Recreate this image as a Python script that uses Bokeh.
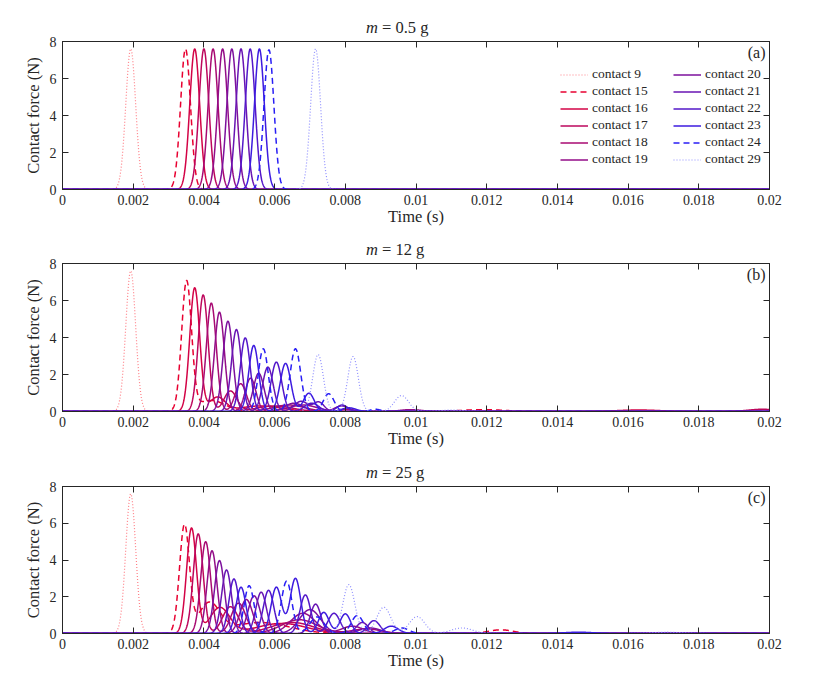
import numpy as np
from bokeh.plotting import figure
from bokeh.models import (Range1d, LinearAxis, FixedTicker, Label, Legend, Div,
                          LegendItem, CustomJSTickFormatter, ColumnDataSource)
from bokeh.layouts import column
from bokeh.embed import file_html
from bokeh.resources import INLINE

# ---------------- data ----------------
contacts = [9, 15, 16, 17, 18, 19, 20, 21, 22, 23, 24, 29]
dash_styles = ["dotted", "dashed", "solid", "solid", "solid", "solid",
               "solid", "solid", "solid", "solid", "dashed", "dotted"]
masses = ["0.5", "12", "25"]
panel_tags = ["(a)", "(b)", "(c)"]
x_ticks = [0, 0.002, 0.004, 0.006, 0.008, 0.01, 0.012, 0.014, 0.016, 0.018, 0.02]
x_tick_labels = ["0", "0.002", "0.004", "0.006", "0.008", "0.01", "0.012",
                 "0.014", "0.016", "0.018", "0.02"]
y_ticks = [0, 2, 4, 6, 8]

# pulses: (peak time [ms], peak force [N], width [ms])
pulses_a = {
    9:  [(1.93, 7.6, 0.14)],
    15: [(3.48, 7.6, 0.14)],
    16: [(3.74, 7.6, 0.14)],
    17: [(4.00, 7.6, 0.14)],
    18: [(4.26, 7.6, 0.14)],
    19: [(4.53, 7.6, 0.14)],
    20: [(4.79, 7.6, 0.14)],
    21: [(5.05, 7.6, 0.14)],
    22: [(5.31, 7.6, 0.14)],
    23: [(5.57, 7.6, 0.14)],
    24: [(5.84, 7.55, 0.14)],
    29: [(7.16, 7.6, 0.14)],
}
pulses_b = {
    9:  [(1.93, 7.6, 0.14)],
    15: [(3.51, 6.95, 0.14), (4.20, 0.60, 0.40), (11.9, 0.10, 0.60)],
    16: [(3.74, 6.68, 0.14), (4.38, 0.75, 0.22), (5.60, 0.30, 0.60), (16.3, 0.08, 0.60)],
    17: [(3.98, 6.30, 0.14), (4.75, 1.10, 0.18), (6.00, 0.30, 0.50), (19.8, 0.12, 0.40)],
    18: [(4.21, 5.86, 0.14), (5.04, 1.50, 0.16), (6.40, 0.35, 0.45), (8.05, 0.12, 0.20)],
    19: [(4.44, 5.37, 0.14), (5.32, 1.80, 0.15), (6.80, 0.35, 0.40), (9.85, 0.10, 0.30)],
    20: [(4.68, 4.88, 0.14), (5.55, 2.07, 0.15), (6.55, 0.45, 0.25), (7.90, 0.30, 0.20)],
    21: [(4.92, 4.43, 0.14), (5.81, 2.40, 0.15), (6.75, 0.55, 0.20), (7.25, 0.50, 0.15)],
    22: [(5.17, 3.98, 0.14), (6.05, 2.67, 0.15), (7.05, 0.45, 0.20), (7.91, 0.35, 0.15)],
    23: [(5.41, 3.57, 0.14), (6.31, 2.60, 0.15), (6.97, 0.99, 0.15), (8.10, 0.20, 0.20)],
    24: [(5.68, 3.39, 0.14), (6.59, 3.39, 0.15), (7.53, 0.96, 0.15), (8.85, 0.12, 0.15)],
    29: [(7.23, 3.08, 0.15), (8.22, 2.97, 0.15), (9.59, 0.86, 0.20), (11.0, 0.08, 0.30)],
}
pulses_c = {
    9:  [(1.93, 7.6, 0.14)],
    15: [(3.45, 5.83, 0.14), (4.15, 1.60, 0.30), (5.60, 0.60, 0.80), (12.4, 0.20, 0.35)],
    16: [(3.65, 5.72, 0.14), (4.45, 1.40, 0.28), (6.20, 0.55, 0.70)],
    17: [(3.84, 5.42, 0.14), (4.75, 1.45, 0.22), (6.50, 0.60, 0.60)],
    18: [(4.05, 5.00, 0.14), (4.98, 1.65, 0.20), (6.70, 0.75, 0.50), (8.60, 0.25, 0.40)],
    19: [(4.23, 4.50, 0.14), (5.20, 1.85, 0.18), (6.80, 1.10, 0.35), (8.20, 0.40, 0.30)],
    20: [(4.44, 3.97, 0.14), (5.42, 2.05, 0.17), (7.00, 1.30, 0.30), (8.70, 0.30, 0.30)],
    21: [(4.64, 3.46, 0.14), (5.62, 2.25, 0.15), (7.16, 1.60, 0.15), (8.48, 0.60, 0.17)],
    22: [(4.85, 2.97, 0.14), (5.83, 2.35, 0.15), (6.87, 2.10, 0.15), (7.68, 1.10, 0.17),
         (8.81, 0.70, 0.17)],
    23: [(5.05, 2.52, 0.14), (6.05, 2.52, 0.15), (6.59, 3.00, 0.15), (7.39, 1.15, 0.15),
         (8.00, 1.07, 0.15), (9.30, 0.40, 0.20), (14.6, 0.07, 0.40)],
    24: [(5.28, 2.60, 0.14), (6.34, 2.85, 0.15), (7.20, 0.90, 0.20), (8.34, 0.98, 0.17),
         (9.60, 0.30, 0.20)],
    29: [(8.10, 2.66, 0.17), (9.09, 1.43, 0.20), (10.03, 0.92, 0.22), (11.3, 0.30, 0.30),
         (17.1, 0.07, 0.40)],
}
panels = [pulses_a, pulses_b, pulses_c]

# ---------------- styling ----------------
FONT = "Liberation Serif"
AX = "#262626"
c0 = np.array([232, 0, 48])
c1 = np.array([40, 30, 245])
colors = ["#ff7f86"]
for i in range(10):
    c = c0 + (c1 - c0) * i / 9.0
    colors.append("#%02x%02x%02x" % tuple(int(round(v)) for v in c))
colors.append("#8f8fff")
dash_map = {"dotted": "1 2", "dashed": "6 4", "solid": "solid"}

t = np.linspace(0.0, 0.02, 2401)
tms = t * 1e3


def curve(pulses):
    f = np.zeros_like(t)
    for tc, amp, sig in pulses:
        f += amp * np.exp(-0.5 * ((tms - tc) / sig) ** 2)
    return f


fmt = CustomJSTickFormatter(args=dict(tvals=x_ticks, tlabels=x_tick_labels), code="""
let best = 0;
for (let i = 0; i < tvals.length; i++) {
  if (Math.abs(tvals[i] - tick) < Math.abs(tvals[best] - tick)) best = i;
}
return tlabels[best];
""")

# layout geometry (pixels)
div_heights = [36, 28, 29]
title_tops = [19.5, 11.5, 12.5]
frame_heights = [148, 148, 147]
bottoms = [41, 41, 42]

items_out = []
for k, pulses in enumerate(panels):
    title_html = (
        '<div style="padding-left:366px;padding-top:%.1fpx;font-family:\'Liberation Serif\';'
        'font-size:16.5px;line-height:16px;color:#262626;white-space:nowrap;">'
        '<i>m</i> = %s g</div>' % (title_tops[k], masses[k]))
    d = Div(text=title_html, width=798, height=div_heights[k], margin=0)
    items_out.append(d)

    p = figure(frame_width=707, frame_height=frame_heights[k],
               x_range=Range1d(0, 0.02), y_range=Range1d(0, 8),
               output_backend="svg", toolbar_location=None,
               min_border_left=62, min_border_right=29,
               min_border_top=5, min_border_bottom=bottoms[k])
    p.grid.visible = False
    p.outline_line_color = AX
    p.outline_line_width = 1
    p.background_fill_color = "white"
    p.border_fill_color = "white"

    renderers = []
    for j, c in enumerate(contacts):
        src = ColumnDataSource(dict(x=t, y=curve(pulses[c])))
        lw = 1.2 if dash_styles[j] == "dotted" else 1.5
        r = p.line("x", "y", source=src, line_color=colors[j], line_width=lw,
                   line_dash=dash_map[dash_styles[j]])
        renderers.append(r)

    # axes
    for ax in [p.xaxis[0], p.yaxis[0]]:
        ax.axis_line_color = AX
        ax.major_tick_line_color = AX
        ax.major_tick_in = 6
        ax.major_tick_out = 0
        ax.minor_tick_line_color = None
        ax.major_label_text_font = FONT
        ax.major_label_text_font_size = "14px"
        ax.major_label_text_color = AX
        ax.axis_label_text_font = FONT
        ax.axis_label_text_font_size = "16.5px"
        ax.axis_label_text_font_style = "normal"
        ax.axis_label_text_color = AX
    p.xaxis.ticker = FixedTicker(ticks=x_ticks)
    p.xaxis.formatter = fmt
    p.xaxis.axis_label = "Time (s)"
    p.xaxis.major_label_standoff = 5
    p.xaxis.axis_label_standoff = -1
    p.yaxis.ticker = FixedTicker(ticks=y_ticks)
    p.yaxis.axis_label = "Contact force (N)"
    p.yaxis.major_label_standoff = 6
    p.yaxis.axis_label_standoff = 4

    top = LinearAxis(ticker=FixedTicker(ticks=x_ticks), major_tick_in=6, major_tick_out=0,
                     minor_tick_line_color=None, axis_line_color=AX,
                     major_tick_line_color=AX, major_label_text_font_size="0px",
                     major_label_text_color=None, major_label_standoff=0)
    right = LinearAxis(ticker=FixedTicker(ticks=y_ticks), major_tick_in=6, major_tick_out=0,
                       minor_tick_line_color=None, axis_line_color=AX,
                       major_tick_line_color=AX, major_label_text_font_size="0px",
                       major_label_text_color=None, major_label_standoff=0)
    p.add_layout(top, "above")
    p.add_layout(right, "right")

    p.add_layout(Label(x=0.02, y=8, x_offset=-4, y_offset=-2, text=panel_tags[k],
                       text_align="right", text_baseline="top", text_font=FONT,
                       text_font_size="16px", text_color=AX))

    if k == 0:
        for half, loc in [(0, (498, 22)), (1, (611, 22))]:
            items = [LegendItem(label="contact %d" % contacts[j], renderers=[renderers[j]])
                     for j in range(half * 6, half * 6 + 6)]
            leg = Legend(items=items, location=loc, padding=0, margin=0, spacing=1,
                         glyph_width=28, glyph_height=15, label_height=15,
                         label_standoff=4, border_line_color=None,
                         background_fill_alpha=0, label_text_font=FONT,
                         label_text_font_size="13.5px", label_text_color=AX)
            p.add_layout(leg, "center")
    items_out.append(p)

layout = column(*items_out, spacing=0)
open("out.html", "w").write(file_html(layout, INLINE))
